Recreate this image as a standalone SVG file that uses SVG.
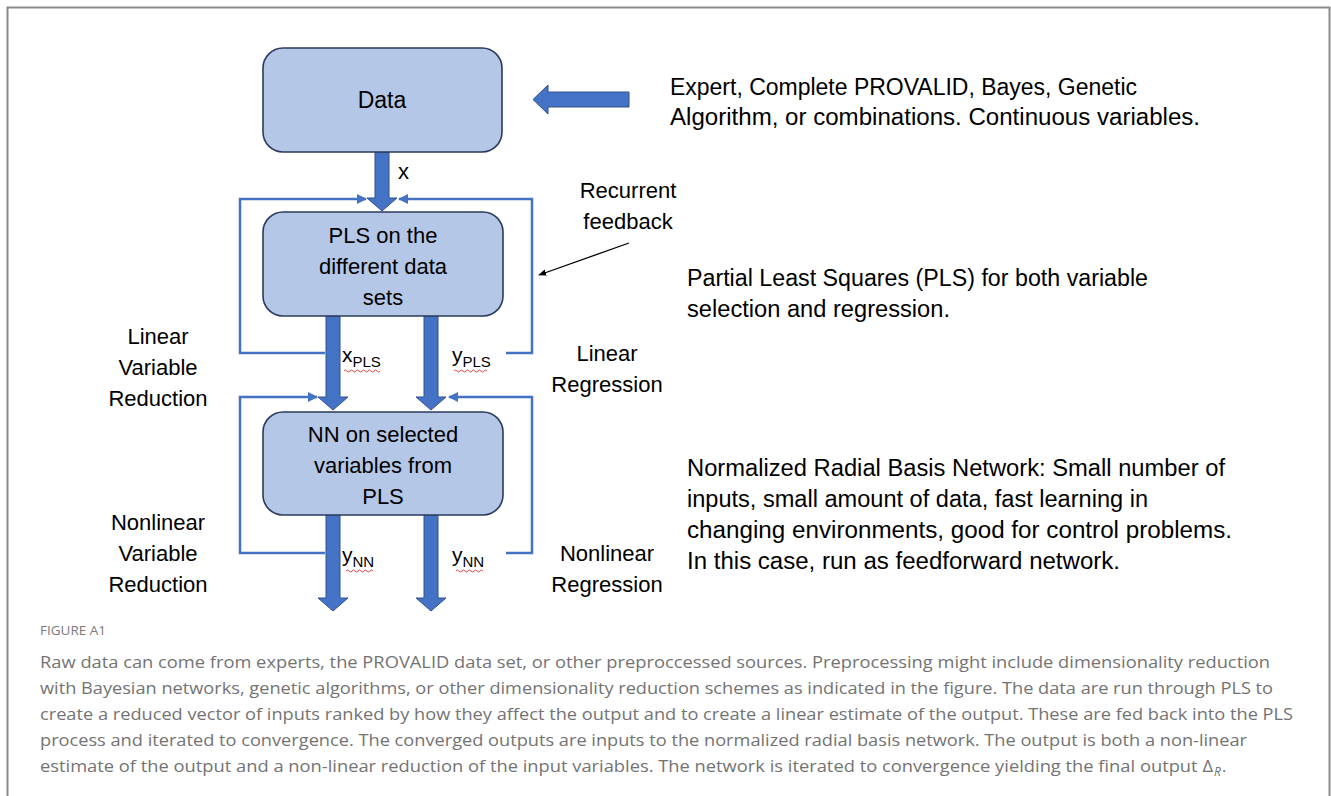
<svg xmlns="http://www.w3.org/2000/svg" width="1331" height="796" viewBox="0 0 1331 796">
<defs>
<style>
.box{fill:#B4C7E7;stroke:#2B3A5C;stroke-width:1.6}
.fat{fill:#4472C4;stroke:#2F528F;stroke-width:1}
.fb{fill:none;stroke:#4472C4;stroke-width:2.5}
.t{font-family:"Liberation Sans",Arial,sans-serif;font-size:22px;fill:#000}
.tc{text-anchor:middle}
.sub{font-size:15px}
.cap{font-family:"Open Sans","Liberation Sans",sans-serif;font-size:16.5px;fill:#737373}
.sq{fill:none;stroke:#E03030;stroke-width:0.9}
</style>
<marker id="ah" viewBox="0 0 10 10" refX="9" refY="5" markerWidth="4" markerHeight="4" orient="auto" markerUnits="strokeWidth">
<path d="M0,0 L10,5 L0,10 z" fill="#4472C4"/>
</marker>
<marker id="bk" viewBox="0 0 10 10" refX="9" refY="5" markerWidth="8" markerHeight="8" orient="auto" markerUnits="userSpaceOnUse">
<path d="M0,1 L10,5 L0,9 z" fill="#000"/>
</marker>
</defs>
<rect width="1331" height="796" fill="#fff"/>
<path d="M7.5,796 V7.5 H1329.5 V796" fill="none" stroke="#8a8a8a" stroke-width="2"/>

<g id="connectors">
<path class="fb" d="M325,353 H240 V199 H366" marker-end="url(#ah)"/>
<path class="fb" d="M506,353 H532 V199 H399" marker-end="url(#ah)"/>
<path class="fb" d="M325,553 H240 V397 H317" marker-end="url(#ah)"/>
<path class="fb" d="M506,553 H532 V397 H449" marker-end="url(#ah)"/>
<polygon class="fat" points="375,152 389,152 389,198 397,198 382,211 367,198 375,198"/>
<polygon class="fat" points="326,316 340,316 340,397 348,397 333,410 318,397 326,397"/>
<polygon class="fat" points="424,316 438,316 438,397 446,397 431,410 416,397 424,397"/>
<polygon class="fat" points="326,515 340,515 340,598 348,598 333,611 318,598 326,598"/>
<polygon class="fat" points="424,515 438,515 438,598 446,598 431,611 416,598 424,598"/>
<polygon class="fat" points="629,92 548,92 548,85 533,99.5 548,114 548,107 629,107"/>
<line x1="629" y1="243" x2="539" y2="275" stroke="#000" stroke-width="1.3" marker-end="url(#bk)"/>
</g>

<g id="node-data">
<rect class="box" x="263" y="48" width="239" height="104" rx="20"/>
<text class="t tc" x="382" y="108" style="font-size:23px">Data</text>
</g>
<g id="node-pls">
<rect class="box" x="263" y="212" width="240" height="104" rx="20"/>
<text class="t tc" x="383" y="243">PLS on the</text>
<text class="t tc" x="383" y="274">different data</text>
<text class="t tc" x="383" y="305">sets</text>
</g>
<g id="node-nn">
<rect class="box" x="263" y="412" width="240" height="103" rx="20"/>
<text class="t tc" x="383" y="442">NN on selected</text>
<text class="t tc" x="383" y="473">variables from</text>
<text class="t tc" x="383" y="504">PLS</text>
</g>

<g id="edge-labels">
<text class="t" x="398" y="179" style="font-size:22px">x</text>
<text class="t" x="342" y="362" style="font-size:21px">x<tspan class="sub" dy="5">PLS</tspan></text>
<path class="sq" d="M344,371 q1.5,-2 3,0 t3,0 t3,0 t3,0 t3,0 t3,0 t3,0 t3,0 t3,0 t3,0 t3,0 t3,0"/>
<text class="t" x="452" y="362" style="font-size:21px">y<tspan class="sub" dy="5">PLS</tspan></text>
<path class="sq" d="M454,371 q1.5,-2 3,0 t3,0 t3,0 t3,0 t3,0 t3,0 t3,0 t3,0 t3,0 t3,0 t3,0"/>
<text class="t" x="342" y="562" style="font-size:21px">y<tspan class="sub" dy="5">NN</tspan></text>
<path class="sq" d="M346,571 q1.5,-2 3,0 t3,0 t3,0 t3,0 t3,0 t3,0 t3,0 t3,0 t3,0"/>
<text class="t" x="452" y="562" style="font-size:21px">y<tspan class="sub" dy="5">NN</tspan></text>
<path class="sq" d="M456,571 q1.5,-2 3,0 t3,0 t3,0 t3,0 t3,0 t3,0 t3,0 t3,0 t3,0"/>
</g>

<g id="side-labels">
<text class="t tc" x="628" y="198">Recurrent</text>
<text class="t tc" x="628" y="229">feedback</text>
<text class="t tc" x="158" y="344">Linear</text>
<text class="t tc" x="158" y="375">Variable</text>
<text class="t tc" x="158" y="406">Reduction</text>
<text class="t tc" x="158" y="530">Nonlinear</text>
<text class="t tc" x="158" y="561">Variable</text>
<text class="t tc" x="158" y="592">Reduction</text>
<text class="t tc" x="607" y="361">Linear</text>
<text class="t tc" x="607" y="392">Regression</text>
<text class="t tc" x="607" y="561">Nonlinear</text>
<text class="t tc" x="607" y="592">Regression</text>
</g>

<g id="descriptions">
<text class="t" x="670" y="95" style="font-size:23px" textLength="467" lengthAdjust="spacingAndGlyphs">Expert, Complete PROVALID, Bayes, Genetic</text>
<text class="t" x="670" y="125" style="font-size:23px" textLength="530" lengthAdjust="spacingAndGlyphs">Algorithm, or combinations. Continuous variables.</text>
<text class="t" x="687" y="286" style="font-size:23px" textLength="461" lengthAdjust="spacingAndGlyphs">Partial Least Squares (PLS) for both variable</text>
<text class="t" x="687" y="317" style="font-size:23px" textLength="263" lengthAdjust="spacingAndGlyphs">selection and regression.</text>
<text class="t" x="687" y="476" style="font-size:23px" textLength="538" lengthAdjust="spacingAndGlyphs">Normalized Radial Basis Network: Small number of</text>
<text class="t" x="687" y="507" style="font-size:23px" textLength="461" lengthAdjust="spacingAndGlyphs">inputs, small amount of data, fast learning in</text>
<text class="t" x="687" y="538" style="font-size:23px" textLength="545" lengthAdjust="spacingAndGlyphs">changing environments, good for control problems.</text>
<text class="t" x="687" y="569" style="font-size:23px" textLength="433" lengthAdjust="spacingAndGlyphs">In this case, run as feedforward network.</text>
</g>

<g id="caption">
<text x="40" y="635" style="font-family:'Open Sans','Liberation Sans',sans-serif;font-size:13.5px;fill:#7a7a7a">FIGURE A1</text>
<text class="cap" x="40" y="668" textLength="1230" lengthAdjust="spacingAndGlyphs">Raw data can come from experts, the PROVALID data set, or other preproccessed sources. Preprocessing might include dimensionality reduction</text>
<text class="cap" x="40" y="694" textLength="1233" lengthAdjust="spacingAndGlyphs">with Bayesian networks, genetic algorithms, or other dimensionality reduction schemes as indicated in the figure. The data are run through PLS to</text>
<text class="cap" x="40" y="720" textLength="1253" lengthAdjust="spacingAndGlyphs">create a reduced vector of inputs ranked by how they affect the output and to create a linear estimate of the output. These are fed back into the PLS</text>
<text class="cap" x="40" y="746" textLength="1207" lengthAdjust="spacingAndGlyphs">process and iterated to convergence. The converged outputs are inputs to the normalized radial basis network. The output is both a non-linear</text>
<text class="cap" x="40" y="772" textLength="1173" lengthAdjust="spacingAndGlyphs">estimate of the output and a non-linear reduction of the input variables. The network is iterated to convergence yielding the final output Δ</text>
<text class="cap" x="1214" y="776" style="font-size:12px;font-style:italic">R</text>
<text class="cap" x="1222" y="772">.</text>
</g>
</svg>
